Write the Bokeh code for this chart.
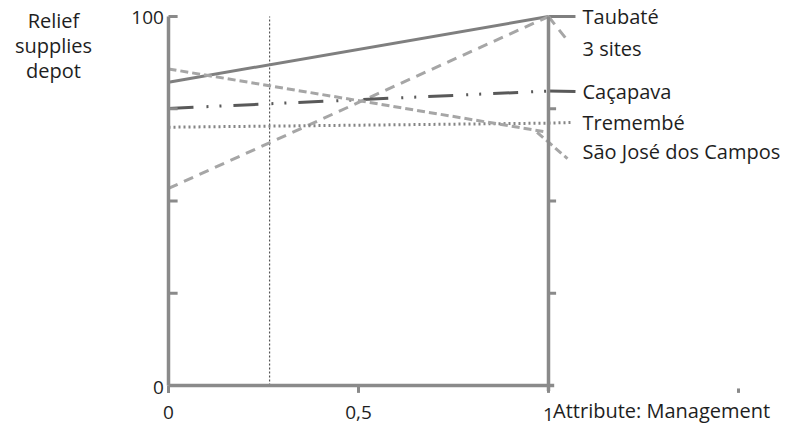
from bokeh.plotting import figure
from bokeh.models import Range1d
from bokeh.core.properties import value
from bokeh.embed import file_html
from bokeh.resources import INLINE

# ---- data ----
series = ["Taubaté", "3 sites", "Caçapava", "Tremembé", "São José dos Campos"]
left_values = [82.2, 53.4, 75.1, 70.0, 85.8]     # at attribute weight 0
right_values = [100.0, 100.0, 79.8, 71.1, 68.6]  # at attribute weight 1
label_values = [100.0, 91.3, 79.7, 71.3, 63.5]   # vertical position of right-hand labels
x_ticks = [0, 0.5, 1]
x_tick_labels = ["0", "0,5", "1"]
y_ticks = [0, 25, 50, 75, 100]
y_tick_labels = ["0", "", "", "", "100"]
extra_tick = 1.5
current_weight = 0.266
y_title = ["Relief", "supplies", "depot"]
x_title = "Attribute: Management"

# ---- styles ----
colors = ["#7f7f7f", "#a6a6a6", "#595959", "#858585", "#a6a6a6"]
dashes = ["solid", "10 7", "25 13 2 11 2 12", "2 3", "8 4"]
leader_end = [(1.071, 100.0), (1.05, 93.5), (1.071, 79.7), (1.064, 71.3), (1.05, 61.5)]
FONT = value("Open Sans")
FS = "20px"
FSN = "19px"
TC = "#1e1e1e"
AX = "#8a8a8a"

p = figure(width=780, height=425, output_backend="svg", toolbar_location=None,
           x_range=Range1d(-0.44211, 1.61053), y_range=Range1d(-10.84, 104.34),
           x_axis_type=None, y_axis_type=None, min_border=0)
p.outline_line_color = None
p.grid.visible = False
p.background_fill_color = "white"

# current weight marker
p.line([current_weight, current_weight], [0, 100], line_color="#555555", line_width=1.2,
       line_dash="2 2")

# series lines and leaders to their labels
for i in range(len(series)):
    p.line([0, 1], [left_values[i], right_values[i]], line_color=colors[i], line_width=3,
           line_dash=dashes[i])
    ex, ey = leader_end[i]
    x0, y0 = 1.0, right_values[i]
    if i == 4:
        x0 = 0.97
    p.line([x0, ex], [y0, ey], line_color=colors[i], line_width=3,
           line_dash=dashes[i] if i != 2 else "solid")

# axes
p.line([0, 0], [0, 100], line_color=AX, line_width=3.5)
p.line([1, 1], [-1.5, 100], line_color=AX, line_width=3.5)
p.line([0, 1.015], [0, 0], line_color=AX, line_width=3.5)
yt = [t for t in y_ticks if t > 0]
p.segment(x0=[0] * len(yt), y0=yt, x1=[0.024] * len(yt), y1=yt, line_color=AX, line_width=3)
p.segment(x0=[1] * 3, y0=y_ticks[1:4], x1=[1.02] * 3, y1=y_ticks[1:4], line_color=AX, line_width=3)
p.segment(x0=x_ticks + [extra_tick], y0=[0, 0, 0, -0.8], x1=x_ticks + [extra_tick],
          y1=[-2.0] * 4, line_color=AX, line_width=3)

# texts
p.text(x=[-0.012, -0.012], y=[y_ticks[0] - 0.6, y_ticks[-1] - 0.3],
       text=[y_tick_labels[0], y_tick_labels[-1]], text_font=FONT, text_font_size=FSN,
       text_color=TC, text_align="right", text_baseline="middle")
p.text(x=[-0.3026] * 3, y=[98.9, 92.1, 85.4], text=y_title, text_font=FONT,
       text_font_size=FS, text_color=TC, text_align="center", text_baseline="middle")
p.text(x=x_ticks, y=[-7.3, -7.3, -7.8], text=x_tick_labels, text_font=FONT,
       text_font_size=FSN, text_color=TC, text_align="center", text_baseline="middle")
p.text(x=[1.012], y=[-6.8], text=[x_title], text_font=FONT, text_font_size=FS,
       text_color=TC, text_align="left", text_baseline="middle")
p.text(x=[1.0895] * len(series), y=label_values, text=series, text_font=FONT,
       text_font_size=FS, text_color=TC, text_align="left", text_baseline="middle")

open("out.html", "w").write(file_html(p, INLINE))
